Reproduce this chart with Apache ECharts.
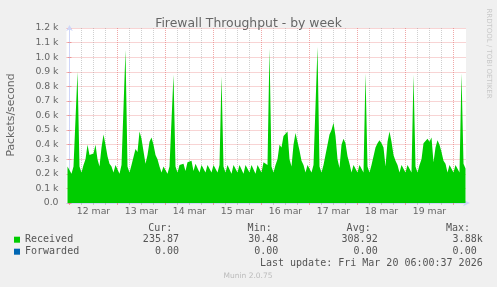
<!DOCTYPE html>
<html>
<head>
<meta charset="utf-8">
<script src="https://cdn.jsdelivr.net/npm/echarts@6/dist/echarts.min.js"></script>
<style>
html,body{margin:0;padding:0;background:#F0F0F0;}
#chart{width:497px;height:287px;}
</style>
</head>
<body>
<div id="chart"></div>
<script>
// Hours are counted from 12 mar 00:00; first sample is 11 mar 23:00, one per hour.
const startHour = -1;
const stepHours = 1;
const axisStart = -1.5;   // left edge of the plot
const axisEnd = 198.25;   // 20 mar ~06:00

// Received packets/second, hourly
const received = [
  250,
  // 12 mar
  260,200,250,260,900,250,210,260,300,400,330,320,340,400,300,250,380,470,400,320,270,250,210,260,
  // 13 mar
  250,200,260,250,1050,250,210,260,270,370,350,490,440,450,270,330,420,450,400,330,300,250,210,250,
  // 14 mar
  260,200,250,260,880,250,210,260,260,270,220,280,270,290,220,270,260,210,260,260,210,260,250,210,
  // 15 mar
  260,250,210,260,870,250,210,260,250,200,260,250,210,260,250,200,260,250,210,260,250,200,260,250,
  // 16 mar
  210,280,280,260,1060,250,210,260,300,400,380,460,470,490,300,250,400,480,420,360,290,260,210,260,
  // 17 mar
  250,210,260,250,1070,250,210,260,250,400,470,500,550,460,300,240,400,440,410,320,270,210,260,250,
  // 18 mar
  210,260,250,210,890,250,210,260,270,380,410,430,410,380,250,420,490,420,330,290,260,210,260,250,
  // 19 mar
  210,260,250,210,880,250,210,260,300,410,400,440,420,450,280,380,430,400,350,290,270,210,260,250,
  // 20 mar
  210,260,250,210,890,270,236
];

// Forwarded packets/second (zero for the whole period)
const forwardedHours = [-1, 198];
const forwardedValues = [0, 0];

// X axis: day labels centered at noon, minor grid every 6 hours, major grid at midnight
const dayLabels = ['12 mar','13 mar','14 mar','15 mar','16 mar','17 mar','18 mar','19 mar'];
const labelHours = [12, 36, 60, 84, 108, 132, 156, 180];
const minorHours = [6,12,18,30,36,42,54,60,66,78,84,90,102,108,114,126,132,138,150,156,162,174,180,186];
const dayHours = [0,24,48,72,96,120,144,168,192];

// Y axis ticks
const yMin = 0, yMax = 1200, yStep = 100;

// Legend table
const seriesNames = ['Received', 'Forwarded'];
const statHeaders = ['Cur:', 'Min:', 'Avg:', 'Max:'];
const receivedStats = ['235.87 ', '30.48 ', '308.92 ', '3.88k'];
const forwardedStats = ['0.00 ', '0.00 ', '0.00 ', '0.00 '];
const lastUpdate = 'Last update: Fri Mar 20 06:00:37 2026';

const receivedData = received.map((v, i) => [startHour + i * stepHours, v]);
const forwardedData = forwardedValues.map((v, i) => [forwardedHours[i], v]);

const MGRID = 'rgba(230,110,110,0.6)';
const GRID = 'rgba(150,150,150,0.45)';
const AXIS = '#CFD6F8';
const FONT = '#666666';
const mono = '"DejaVu Sans Mono", monospace';
const sans = '"DejaVu Sans", sans-serif';

const colRight = [185, 284.3, 383.7, 482.7];
const headRight = [172.3, 271.7, 370.7, 470];

function txt(t, x, y, font, fill, align, rot) {
  return {type:'text', x: x, y: y, rotation: rot || 0, silent: true,
    style: {text: t, font: font, fill: fill, align: align, verticalAlign: 'middle',
            textAlign: align, textVerticalAlign: 'middle'}};
}
const graphics = [];
statHeaders.forEach((t, i) => graphics.push(txt(t, headRight[i], 228.5, '10px ' + mono, '#555', 'right')));
receivedStats.forEach((t, i) => graphics.push(txt(t, colRight[i], 239.7, '10px ' + mono, '#555', 'right')));
forwardedStats.forEach((t, i) => graphics.push(txt(t, colRight[i], 251.7, '10px ' + mono, '#555', 'right')));
graphics.push(txt(lastUpdate, 482.7, 263.7, '10px ' + mono, '#555', 'right'));
graphics.push(txt('Munin 2.0.75', 248, 276, '7.5px ' + sans, '#bbbbbb', 'center'));
graphics.push(txt('Packets/second', 11, 115, '10.8px ' + sans, FONT, 'center', Math.PI / 2));
graphics.push(txt('RRDTOOL / TOBI OETIKER', 488.5, 53.5, '7px ' + sans, '#c8c8c8', 'center', -Math.PI / 2));

const chart = echarts.init(document.getElementById('chart'), null, {renderer:'canvas'});
chart.setOption({
  backgroundColor: '#F0F0F0',
  animation: false,
  title: {
    text: 'Firewall Throughput - by week',
    left: 'center', top: 13,
    textStyle: {fontFamily: sans, fontSize: 12.4, fontWeight: 'normal', color: FONT}
  },
  grid: {left: 66.5, right: 31, top: 28, bottom: 84, show: true, backgroundColor: '#FFFFFF', borderWidth: 0, containLabel: false},
  legend: {
    data: seriesNames, orient: 'vertical', left: 14, top: 233.7, padding: 0,
    icon: 'rect', itemWidth: 6, itemHeight: 6, itemGap: 0, selectedMode: false,
    textStyle: {fontFamily: mono, fontSize: 10, color: '#555', lineHeight: 12}
  },
  xAxis: [{
    type: 'value', min: axisStart, max: axisEnd,
    axisLine: {show: true, lineStyle: {color: AXIS, width: 1}, symbol: ['none','arrow'], symbolSize: [5,7], symbolOffset: [0,4]},
    axisTick: {show: true, length: 2, customValues: minorHours, lineStyle: {color: GRID}},
    splitLine: {show: true, lineStyle: {color: GRID, type: [1,1], width: 1}},
    axisLabel: {show: true, customValues: labelHours, margin: 4,
      formatter: v => dayLabels[Math.round((v - 12) / 24)],
      fontFamily: sans, fontSize: 9.3, color: FONT}
  }, {
    type: 'value', min: axisStart, max: axisEnd, position: 'bottom',
    axisLine: {show: false},
    axisTick: {show: true, length: 2, customValues: dayHours, lineStyle: {color: MGRID}},
    splitLine: {show: true, lineStyle: {color: MGRID, type: [1,1], width: 1}},
    axisLabel: {show: false}
  }],
  yAxis: [{
    type: 'value', min: yMin, max: yMax, interval: yStep,
    axisLine: {show: true, lineStyle: {color: AXIS, width: 1}, symbol: ['none','arrow'], symbolSize: [5,6], symbolOffset: [0,3]},
    axisTick: {show: true, length: 2, lineStyle: {color: MGRID}},
    splitLine: {show: true, lineStyle: {color: MGRID, type: [1,1], width: 1}},
    axisLabel: {margin: 8, fontFamily: sans, fontSize: 9.3, color: FONT,
      formatter: v => v === 0 ? '0.0' : (v / 1000).toFixed(1) + ' k'}
  }, {
    type: 'value', min: yMin, max: yMax, interval: yStep, position: 'right',
    axisLine: {show: false},
    axisTick: {show: true, length: 2, lineStyle: {color: MGRID}},
    splitLine: {show: false},
    axisLabel: {show: false}
  }],
  series: [{
    name: 'Received', type: 'line', xAxisIndex: 0, yAxisIndex: 0,
    data: receivedData, symbol: 'none', smooth: false,
    itemStyle: {color: '#00CC00'},
    lineStyle: {width: 0, color: '#00CC00'},
    areaStyle: {color: '#00CC00', opacity: 1}
  }, {
    name: 'Forwarded', type: 'line', xAxisIndex: 0, yAxisIndex: 0,
    data: forwardedData, symbol: 'none',
    itemStyle: {color: '#0066B3'},
    lineStyle: {width: 1, color: '#0066B3', opacity: 0}
  }],
  graphic: graphics
});
</script>
</body>
</html>
